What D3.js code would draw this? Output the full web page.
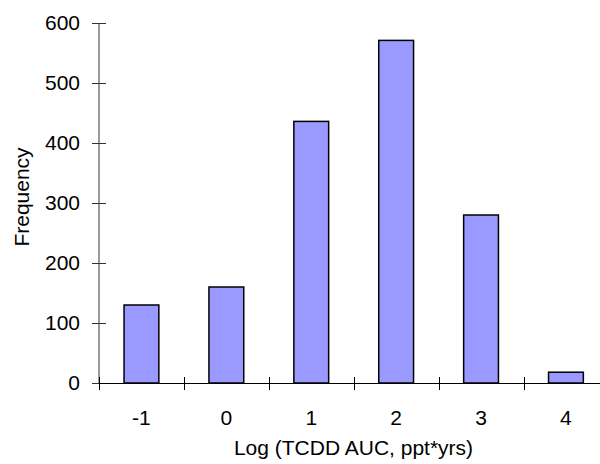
<!DOCTYPE html>
<html>
<head>
<meta charset="utf-8">
<script src="https://cdn.jsdelivr.net/npm/d3@7"></script>
<style>
  body { margin: 0; background: #fff; }
  text { font-family: "Liberation Sans", Arial, sans-serif; fill: #000; }
</style>
</head>
<body>
<div id="container"></div>
<script>
/* DATA */
const categories = ["-1", "0", "1", "2", "3", "4"];
const frequencies = [130, 160, 436, 571, 280, 18];
const yTicks = [0, 100, 200, 300, 400, 500, 600];
const xTitle = "Log (TCDD AUC, ppt*yrs)";
const yTitle = "Frequency";

/* LAYOUT */
const width = 600, height = 464;
const plot = { left: 99, right: 608.4, top: 23, bottom: 383 };
const fontSize = 21;

const svg = d3.select("#container")
  .append("svg")
  .attr("width", width)
  .attr("height", height);

// scales
const xScale = d3.scaleBand()
  .domain(categories)
  .range([plot.left, plot.right])
  .paddingInner(0.59)
  .paddingOuter(0.295);

const yScale = d3.scaleLinear()
  .domain([0, 600])
  .range([plot.bottom, plot.top]);

// bars
svg.selectAll(".bar")
  .data(frequencies)
  .join("rect")
  .attr("class", "bar")
  .attr("x", (d, i) => xScale(categories[i]))
  .attr("y", d => yScale(d))
  .attr("width", xScale.bandwidth())
  .attr("height", d => yScale(0) - yScale(d))
  .attr("fill", "#9999ff")
  .attr("stroke", "#000")
  .attr("stroke-width", 1.5);

// y axis (ticks cross the axis line), drawn soft grey like the original
const yAxis = svg.append("g")
  .attr("transform", `translate(${plot.left}, 0)`)
  .call(d3.axisLeft(yScale).tickValues(yTicks).tickSize(7).tickPadding(12));
yAxis.select(".domain")
  .attr("stroke", "#777")
  .attr("stroke-width", 1.5)
  .attr("d", `M0,${plot.top}V${plot.bottom}`);
yAxis.selectAll(".tick line").attr("x1", 7).attr("x2", -7).attr("stroke", "#333");
yAxis.selectAll(".tick text")
  .style("font-size", fontSize + "px")
  .style("font-family", "Liberation Sans, Arial, sans-serif")
  .attr("fill", "#000");

// x axis: labels centred on bars, no tick marks there
const xAxis = svg.append("g")
  .attr("transform", `translate(0, ${plot.bottom})`)
  .call(d3.axisBottom(xScale).tickSize(0).tickPadding(27));
xAxis.select(".domain").attr("stroke", "#000").attr("d", `M${plot.left},0.5H${width}`);
xAxis.selectAll(".tick text")
  .style("font-size", fontSize + "px")
  .style("font-family", "Liberation Sans, Arial, sans-serif")
  .attr("fill", "#000");

// x tick marks between categories
const boundaries = categories.map(c => xScale(c) - (xScale.step() - xScale.bandwidth()) / 2);
svg.append("g")
  .selectAll("line")
  .data(boundaries)
  .join("line")
  .attr("x1", d => Math.round(d) + 0.5)
  .attr("x2", d => Math.round(d) + 0.5)
  .attr("y1", plot.bottom - 6)
  .attr("y2", plot.bottom + 7)
  .attr("stroke", "#000");

// axis titles
svg.append("text")
  .attr("x", (plot.left + width + 8) / 2)
  .attr("y", 455)
  .attr("text-anchor", "middle")
  .style("font-size", fontSize + "px")
  .text(xTitle);

svg.append("text")
  .attr("transform", `translate(29, ${(plot.top + plot.bottom) / 2 - 6}) rotate(-90)`)
  .attr("text-anchor", "middle")
  .style("font-size", fontSize + "px")
  .text(yTitle);
</script>
</body>
</html>
